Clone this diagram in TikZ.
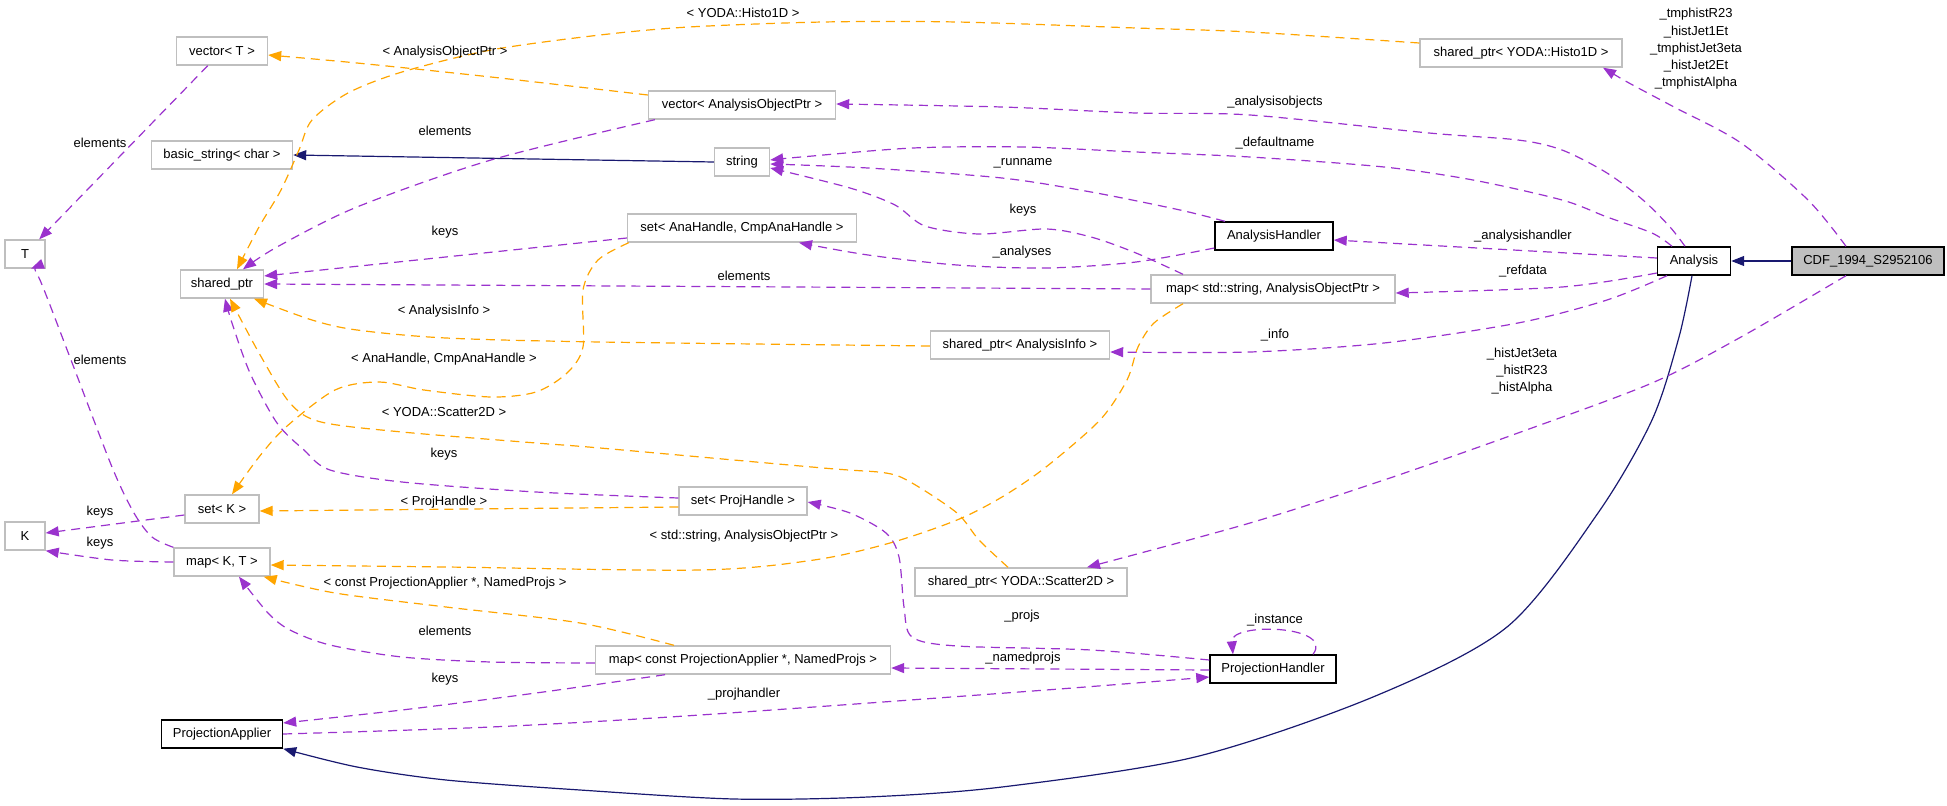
\documentclass[tikz,border=0pt]{standalone}
\usepackage{fontspec}
\setmainfont{Liberation Sans}
\usetikzlibrary{arrows.meta}
\definecolor{refc}{HTML}{9A32CD}
\definecolor{tmplc}{HTML}{FFA500}
\definecolor{inhc}{HTML}{191970}
\definecolor{gborder}{HTML}{BFBFBF}
\definecolor{cdffill}{HTML}{BFBFBF}
\begin{document}
\begin{tikzpicture}[x=1pt,y=-1pt,
  font=\fontsize{13}{17.2}\selectfont,
  box/.style={draw=gborder, line width=1.4pt, fill=white, minimum height=28pt, inner xsep=4pt, inner ysep=2pt},
  bbox/.style={box, draw=black},
  refedge/.style={draw=refc, line width=1.2pt, dash pattern=on 9pt off 6pt, -{Triangle[length=13pt,width=10pt]}},
  tmpledge/.style={draw=tmplc, line width=1.2pt, dash pattern=on 9pt off 6pt, -{Triangle[length=13pt,width=10pt]}},
  inhedge/.style={draw=inhc, line width=1.2pt, -{Triangle[length=13pt,width=10pt]}},
  lbl/.style={inner sep=0pt, align=center}
]
\useasboundingbox (0,0) rectangle (1947,806);

% nodes
\node[box, minimum width=91pt] (vecT) at (222,51) {vector< T >};
\node[box, minimum width=141pt] (bstr) at (222,155) {basic\_string< char >};
\node[box, minimum width=40pt] (T) at (25,254) {T};
\node[box, minimum width=83pt] (sptr) at (222,284) {shared\_ptr};
\node[box, minimum width=74pt] (setK) at (222,509) {set< K >};
\node[box, minimum width=40pt] (K) at (25,536) {K};
\node[box, minimum width=96pt] (mapKT) at (222,562) {map< K, T >};
\node[bbox, minimum width=121pt] (PA) at (222,734) {ProjectionApplier};
\node[box, minimum width=187pt] (vecAOP) at (742,105) {vector< AnalysisObjectPtr >};
\node[box, minimum width=55pt] (string) at (742,162) {string};
\node[box, minimum width=229pt] (setAna) at (742,228) {set< AnaHandle, CmpAnaHandle >};
\node[box, minimum width=128pt] (setProj) at (743,501) {set< ProjHandle >};
\node[box, minimum width=295pt] (mapPA) at (743,660) {map< const ProjectionApplier *, NamedProjs >};
\node[bbox, minimum width=118pt] (AH) at (1274,236) {AnalysisHandler};
\node[box, minimum width=244pt] (mapStr) at (1273,289) {map< std::string, AnalysisObjectPtr >};
\node[box, minimum width=179pt] (spInfo) at (1020,345) {shared\_ptr< AnalysisInfo >};
\node[box, minimum width=212pt] (spScatter) at (1021,582) {shared\_ptr< YODA::Scatter2D >};
\node[bbox, minimum width=126pt] (PH) at (1273,669) {ProjectionHandler};
\node[box, minimum width=202pt] (spHisto) at (1521,53) {shared\_ptr< YODA::Histo1D >};
\node[bbox, minimum width=73pt] (Analysis) at (1694,261) {Analysis};
\node[bbox, fill=cdffill, minimum width=152pt] (CDF) at (1868,261) {CDF\_1994\_S2952106};

% inheritance
\draw[inhedge] (CDF) -- (Analysis);
\draw[inhedge] (string.west) -- (bstr.east);
\draw[inhedge] plot[smooth] coordinates {([xshift=-2pt]Analysis.south) (1679,337) (1652,420) (1598,513) (1507,627) (1373,697) (1195,757) (1002,787) (868,797) (734,799) (580,790) (446,780) (357,767) (PA.south east)};

% references (purple)
\draw[refedge] (vecT) -- (T);
\draw[refedge] plot[smooth] coordinates {([xshift=7pt]vecAOP.south west) (491,160) (357,207) (277,247) ([xshift=21pt]sptr.north)};
\draw[refedge] ([yshift=-10pt]setAna.west) -- ([yshift=8pt]sptr.east);
\draw[refedge] (mapStr.west) -- (sptr.east);
\draw[refedge] plot[smooth] coordinates {([yshift=-12pt]AH.west) (1136,262) (1046,268) (957,265) (868,255) ([xshift=57pt]setAna.south)};
\draw[refedge] plot[smooth] coordinates {([xshift=-90pt]mapStr.north) (1136,253) (1091,237) (1046,229) (979,234) (925,226) (895,205) (850,188) ([yshift=-6pt]string.east)};
\draw[refedge] plot[smooth] coordinates {([xshift=-49pt]AH.north) (1180,210) (1091,192) (1002,178) (868,168) ([yshift=-2pt]string.east)};
\draw[refedge] plot[smooth] coordinates {([xshift=-22pt]Analysis.north) (1652,233) (1607,217) (1562,200) (1473,180) (1384,167) (1250,157) (1136,152) (1024,147) (913,148) (801,157) ([yshift=2pt]string.east)};
\draw[refedge] plot[smooth] coordinates {([xshift=-9pt]Analysis.north) (1670,227) (1643,200) (1607,173) (1562,150) (1518,140) (1429,133) (1250,115) (1136,113) (1002,107) ([yshift=1pt]vecAOP.east)};
\draw[refedge] ([yshift=3pt]Analysis.west) -- ([yshift=-4pt]AH.east);
\draw[refedge] plot[smooth] coordinates {([yshift=-12pt]Analysis.west) (1562,287) ([yshift=-4pt]mapStr.east)};
\draw[refedge] plot[smooth] coordinates {([xshift=-27pt]Analysis.south) (1607,300) (1518,323) (1384,343) (1250,352) ([yshift=-7pt]spInfo.east)};
\draw[refedge] plot[smooth] coordinates {([xshift=-22pt]CDF.north) (1808,200) (1741,143) (1674,107) (1629,83) ([xshift=82pt]spHisto.south)};
\draw[refedge] plot[smooth] coordinates {([xshift=-22pt]CDF.south) (1741,337) (1652,383) (1518,433) (1384,480) (1250,523) ([xshift=66pt]spScatter.north)};
\draw[refedge] plot[smooth] coordinates {([yshift=3pt]setProj.west) (536,492) (402,482) (330,470) (304,450) (277,423) (250,373) (232,323) ([xshift=3pt]sptr.south)};
\draw[refedge] ([yshift=-6pt]setK.west) -- ([yshift=3pt]K.east);
\draw[refedge] plot[smooth] coordinates {(mapKT.west) (112,560) (K.south east)};
\draw[refedge] plot[smooth] coordinates {(mapKT.north west) (152,537) (134,513) (112,467) (71,360) (40,280) ([xshift=6pt]T.south)};
\draw[refedge] plot[smooth] coordinates {([yshift=-3pt]mapPA.west) (491,662) (402,657) (330,645) (290,630) (268,613) ([xshift=17pt]mapKT.south)};
\draw[refedge] plot[smooth] coordinates {([xshift=-78pt]mapPA.south) (536,693) (402,710) ([yshift=11pt]PA.east)};
\draw[refedge] plot[smooth] coordinates {(PA.east) (491,727) (700,715) (1046,690) ([yshift=-8pt]PH.west)};
\draw[refedge] ([yshift=-1pt]PH.west) -- ([yshift=-8pt]mapPA.east);
\draw[refedge] plot[smooth] coordinates {([yshift=9pt]PH.west) (1091,650) (957,646) (912,637) (904,607) (899,557) (886,533) (850,513) ([yshift=-1pt]setProj.east)};
\draw[refedge] ([xshift=40pt]PH.north) .. controls (1335,625) and (1230,622) .. ([xshift=-40pt]PH.north);

% template instantiations (orange)
\draw[tmpledge] plot[smooth] coordinates {([yshift=10pt]vecAOP.west) (491,77) (357,63) ([yshift=-4pt]vecT.east)};
\draw[tmpledge] plot[smooth] coordinates {([yshift=10pt]spHisto.west) (1250,32) (1136,28) (957,22) (823,22) (689,27) (600,35) (491,50) (402,72) (348,93) (312,120) (299,150) (281,190) (259,227) ([xshift=15pt]sptr.north)};
\draw[tmpledge] plot[smooth] coordinates {([yshift=-1pt]spInfo.west) (600,342) (446,338) (357,330) (312,320) ([xshift=32pt]sptr.south)};
\draw[tmpledge] plot[smooth] coordinates {([xshift=2pt]setAna.south west) (598,260) (583,290) (583,347) (567,373) (536,392) (491,397) (424,390) (379,382) (335,390) (286,427) (259,457) ([xshift=10pt]setK.north)};
\draw[tmpledge] plot[smooth] coordinates {([xshift=-13pt]spScatter.north) (979,540) (957,513) (912,483) (886,473) (823,468) (600,448) (536,443) (402,432) (321,422) (290,403) (259,353) ([xshift=8pt]sptr.south)};
\draw[tmpledge] ([yshift=-6pt]setProj.west) -- ([yshift=-2pt]setK.east);
\draw[tmpledge] plot[smooth] coordinates {([xshift=-90pt]mapStr.south) (1154,323) (1138,347) (1127,380) (1100,420) (1046,467) (1002,497) (957,520) (890,543) (814,560) (700,570) (446,567) ([yshift=-3pt]mapKT.east)};
\draw[tmpledge] plot[smooth] coordinates {([xshift=-69pt]mapPA.north) (580,623) (446,607) (335,593) ([xshift=-7pt]mapKT.south east)};

% labels
\node[lbl] (l1) at (100,143) {elements};
\node[lbl] (l2) at (445,52) {< AnalysisObjectPtr >};
\node[lbl] (l3) at (445,131) {elements};
\node[lbl] (l4) at (445,232) {keys};
\node[lbl] (l5) at (743,13) {< YODA::Histo1D >};
\node[lbl] (l6) at (1023,163) {\_runname};
\node[lbl] (l7) at (1023,210) {keys};
\node[lbl] (l8) at (1022,252) {\_analyses};
\node[lbl] (l9) at (744,276) {elements};
\node[lbl] (l10) at (1275,102) {\_analysisobjects};
\node[lbl] (l11) at (1275,143) {\_defaultname};
\node[lbl] (l12) at (1696,49) {\_tmphistR23\\\_histJet1Et\\\_tmphistJet3eta\\\_histJet2Et\\\_tmphistAlpha};
\node[lbl] (l13) at (1523,236) {\_analysishandler};
\node[lbl] (l14) at (1523,271) {\_refdata};
\node[lbl] (l15) at (444,311) {< AnalysisInfo >};
\node[lbl] (l16) at (100,360) {elements};
\node[lbl] (l17) at (444,359) {< AnaHandle, CmpAnaHandle >};
\node[lbl] (l18) at (444,412) {< YODA::Scatter2D >};
\node[lbl] (l19) at (444,454) {keys};
\node[lbl] (l20) at (444,502) {< ProjHandle >};
\node[lbl] (l21) at (100,512) {keys};
\node[lbl] (l22) at (100,543) {keys};
\node[lbl] (l23) at (1275,335) {\_info};
\node[lbl] (l24) at (1522,371) {\_histJet3eta\\\_histR23\\\_histAlpha};
\node[lbl] (l25) at (744,536) {< std::string, AnalysisObjectPtr >};
\node[lbl] (l26) at (445,583) {< const ProjectionApplier *, NamedProjs >};
\node[lbl] (l27) at (445,631) {elements};
\node[lbl] (l28) at (445,679) {keys};
\node[lbl] (l29) at (1022,616) {\_projs};
\node[lbl] (l30) at (1275,620) {\_instance};
\node[lbl] (l31) at (1023,658) {\_namedprojs};
\node[lbl] (l32) at (744,694) {\_projhandler};
\end{tikzpicture}
\end{document}
